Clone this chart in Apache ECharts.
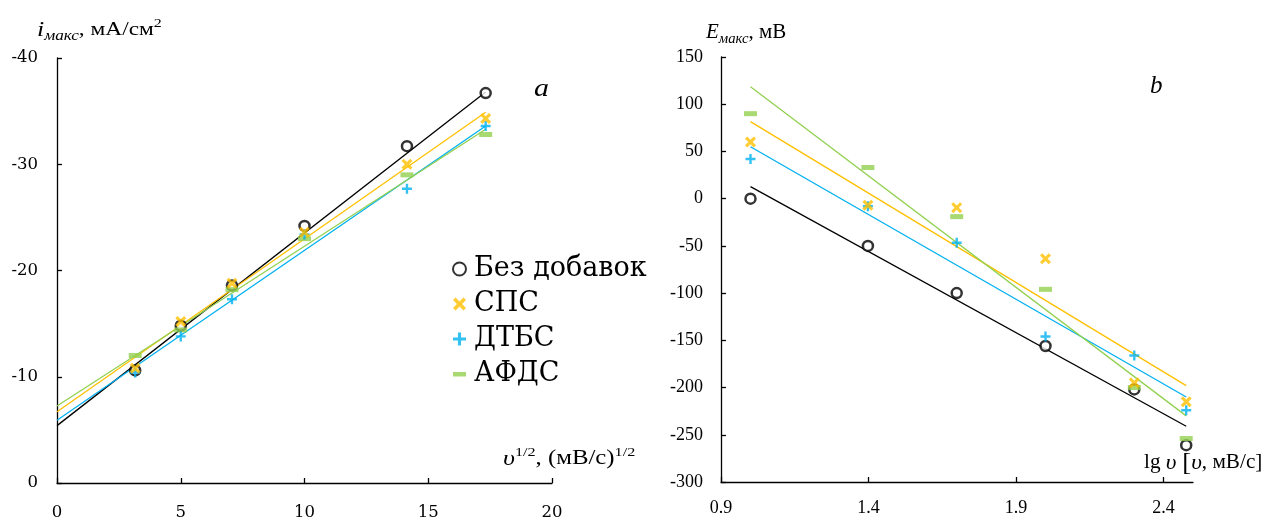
<!DOCTYPE html>
<html>
<head>
<meta charset="utf-8">
<script src="https://cdn.jsdelivr.net/npm/echarts@6/dist/echarts.min.js"></script>
<style>
  html, body { margin: 0; padding: 0; background: #fff; }
  #chart { width: 1264px; height: 521px; }
</style>
</head>
<body>
<div id="chart"></div>
<script>
// Панель a: i_макс от υ^1/2
const xLeft = [3.16, 5, 7.07, 10, 14.14, 17.32];
const iNone = [-10.6, -14.8, -18.6, -24.2, -31.7, -36.7];
const iSPS = [-10.8, -15.2, -18.8, -23.6, -30.0, -34.3];
const iDTBS = [-10.4, -13.8, -17.3, -23.4, -27.7, -33.6];
const iAFDS = [-12.0, -14.4, -18.2, -23.0, -29.0, -32.8];
// концы линий тренда (x = 0 и x = 17.32)
const fitXLeft = [0, 17.32];
const fitNoneL = [-5.4, -36.8];
const fitSPSL = [-6.7, -34.9];
const fitDTBSL = [-5.9, -33.6];
const fitAFDSL = [-7.25, -33.3];

// Панель b: E_макс от lg υ
const xRight = [1.0, 1.398, 1.699, 2.0, 2.301, 2.477];
const eNone = [0, -50, -100, -156, -202, -261];
const eSPS = [60, -7, -9.5, -63.6, -195, -215];
const eDTBS = [42, -8, -46.6, -146, -166, -224];
const eAFDS = [90, 33, -19, -96, -200, -254];
const fitXRight = [1.0, 2.477];
const fitNoneR = [12.7, -241];
const fitSPSR = [81.6, -198];
const fitDTBSR = [55, -210];
const fitAFDSR = [118.6, -230];

const rightXTicks = [0.9, 1.4, 1.9, 2.4];

const names = ["Без добавок", "СПС", "ДТБС", "АФДС"];
const colors = ["#000000", "#ffc000", "#00b0f0", "#92d050"];

const FONT = "Liberation Serif";
const WIDE = "DejaVu Serif"; // левая панель в оригинале растянута по ширине
const symX = "path://M2,0 L5,3 L8,0 L10,2 L7,5 L10,8 L8,10 L5,7 L2,10 L0,8 L3,5 L0,2 Z";
const symPlus = "path://M3.8,0 H6.2 V3.8 H10 V6.2 H6.2 V10 H3.8 V6.2 H0 V3.8 H3.8 Z";
const symDash = "path://M0,0 L0.01,0 L0,0.01 Z M0,4.5 H13 V9 H0 Z M0,13 L0.01,13 L0,12.99 Z";

function zip(xs, ys) {
    return xs.map((x, i) => [x, ys[i]]);
}

const markerStyles = [
    { symbol: "circle", symbolSize: 10, z: 3, itemStyle: { color: "#fff", borderColor: "#000", borderWidth: 2.5 } },
    { symbol: symX, symbolSize: 11, z: 6, itemStyle: { color: colors[1] } },
    { symbol: symPlus, symbolSize: 10, z: 5, itemStyle: { color: colors[2] } },
    { symbol: "rect", symbolSize: [13, 5], z: 4, itemStyle: { color: colors[3] } }
];
const legendIcons = ["circle", symX, symPlus, symDash];

function scatterSeries(idx, xs, ys, axis) {
    return Object.assign({
        name: names[idx],
        type: "scatter",
        xAxisIndex: axis,
        yAxisIndex: axis,
        data: zip(xs, ys)
    }, markerStyles[idx]);
}

function fitSeries(idx, xs, ys, axis) {
    return {
        name: names[idx] + " тренд",
        type: "line",
        xAxisIndex: axis,
        yAxisIndex: axis,
        data: zip(xs, ys),
        showSymbol: false,
        silent: true,
        lineStyle: { color: colors[idx], width: 1.3 },
        z: 2
    };
}

// текст с подстрочными/надстрочными индексами
function richText(x, y, text, rich, sx) {
    return {
        type: "text", x: x, y: y, scaleX: sx || 1,
        style: { text: text, rich: rich, fill: "#000", align: "left", verticalAlign: "top" }
    };
}

const axisLineStyle = { show: true, onZero: false, lineStyle: { color: "#000", width: 1.3 } };
const tickStyle = { show: true, inside: true, length: 5, lineStyle: { color: "#000", width: 1.3 } };
const labelStyle = { color: "#000", fontFamily: FONT, fontSize: 18 };
const wideLabel = { color: "#000", fontFamily: WIDE, fontSize: 16.5 };

const chart = echarts.init(document.getElementById("chart"));

const option = {
    animation: false,
    backgroundColor: "#fff",
    textStyle: { fontFamily: FONT },
    grid: [
        { left: 57, top: 58, width: 495, height: 431 },
        { left: 721, top: 57, width: 472, height: 425 }
    ],
    xAxis: [
        {
            gridIndex: 0, type: "value", min: 0, max: 20, interval: 5,
            axisLine: axisLineStyle, axisTick: tickStyle, splitLine: { show: false },
            axisLabel: Object.assign({ margin: 21 }, wideLabel)
        },
        {
            gridIndex: 1, type: "value", min: 0.9, max: 2.5, interval: 0.5,
            axisLine: axisLineStyle,
            axisTick: Object.assign({ customValues: rightXTicks }, tickStyle),
            splitLine: { show: false },
            axisLabel: Object.assign({
                margin: 17,
                customValues: rightXTicks,
                formatter: v => v.toFixed(1)
            }, labelStyle)
        }
    ],
    yAxis: [
        {
            gridIndex: 0, type: "value", min: -40, max: 0, interval: 10, inverse: true,
            axisLine: axisLineStyle, axisTick: tickStyle, splitLine: { show: false },
            axisLabel: Object.assign({ margin: 19 }, wideLabel)
        },
        {
            gridIndex: 1, type: "value", min: -300, max: 150, interval: 50,
            axisLine: axisLineStyle, axisTick: tickStyle, splitLine: { show: false },
            axisLabel: Object.assign({ margin: 18 }, labelStyle)
        }
    ],
    legend: {
        data: names.map((n, i) => ({ name: n, icon: legendIcons[i] })),
        orient: "vertical",
        left: 447,
        top: 249,
        itemWidth: 13,
        itemHeight: 13,
        itemGap: 5,
        selectedMode: false,
        textStyle: { color: "#000", fontFamily: WIDE, fontSize: 27, lineHeight: 30, padding: [0, 0, 0, 3] }
    },
    graphic: [
        richText(37, 17, "{i|i}{s|макс}{n|, мА/см}{p|2}", {
            i: { fontFamily: FONT, fontStyle: "italic", fontSize: 21, lineHeight: 26 },
            s: { fontFamily: FONT, fontStyle: "italic", fontSize: 14, lineHeight: 13, verticalAlign: "bottom" },
            n: { fontFamily: FONT, fontSize: 19, lineHeight: 26 },
            p: { fontFamily: FONT, fontSize: 13, lineHeight: 12, verticalAlign: "top" }
        }, 1.23),
        richText(706, 20, "{i|E}{s|макс}{n|, мВ}", {
            i: { fontFamily: FONT, fontStyle: "italic", fontSize: 20, lineHeight: 26 },
            s: { fontFamily: FONT, fontStyle: "italic", fontSize: 14, lineHeight: 13, verticalAlign: "bottom" },
            n: { fontFamily: FONT, fontSize: 20, lineHeight: 26 }
        }, 1.05),
        richText(503, 446, "{u|υ}{p|1/2}{n|, (мВ/с)}{p|1/2}", {
            u: { fontFamily: FONT, fontStyle: "italic", fontSize: 21, lineHeight: 26 },
            n: { fontFamily: FONT, fontSize: 20, lineHeight: 26 },
            p: { fontFamily: FONT, fontSize: 13, lineHeight: 12, verticalAlign: "top" }
        }, 1.24),
        richText(1144, 450, "{n|lg }{u|υ }{b|[}{u|υ}{n|, мВ/с]}", {
            u: { fontFamily: FONT, fontStyle: "italic", fontSize: 22, lineHeight: 26 },
            n: { fontFamily: FONT, fontSize: 20, lineHeight: 26 },
            b: { fontFamily: FONT, fontSize: 25, lineHeight: 26 }
        }, 1.06),
        {
            type: "text", x: 534, y: 76, scaleX: 1.15,
            style: { text: "a", fill: "#000", font: "italic 26px 'Liberation Serif'", verticalAlign: "top" }
        },
        {
            type: "text", x: 1150, y: 74,
            style: { text: "b", fill: "#000", font: "italic 25px 'Liberation Serif'", verticalAlign: "top" }
        }
    ],
    series: [
        fitSeries(0, fitXLeft, fitNoneL, 0),
        fitSeries(1, fitXLeft, fitSPSL, 0),
        fitSeries(2, fitXLeft, fitDTBSL, 0),
        fitSeries(3, fitXLeft, fitAFDSL, 0),
        scatterSeries(0, xLeft, iNone, 0),
        scatterSeries(1, xLeft, iSPS, 0),
        scatterSeries(2, xLeft, iDTBS, 0),
        scatterSeries(3, xLeft, iAFDS, 0),
        fitSeries(0, fitXRight, fitNoneR, 1),
        fitSeries(1, fitXRight, fitSPSR, 1),
        fitSeries(2, fitXRight, fitDTBSR, 1),
        fitSeries(3, fitXRight, fitAFDSR, 1),
        scatterSeries(0, xRight, eNone, 1),
        scatterSeries(1, xRight, eSPS, 1),
        scatterSeries(2, xRight, eDTBS, 1),
        scatterSeries(3, xRight, eAFDS, 1)
    ]
};

chart.setOption(option);
</script>
</body>
</html>
